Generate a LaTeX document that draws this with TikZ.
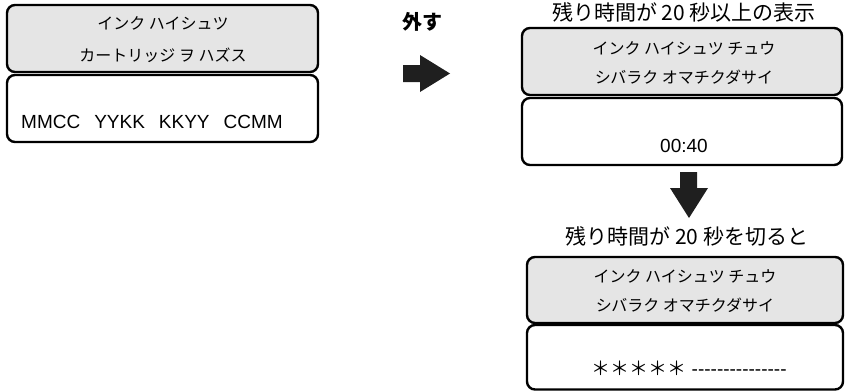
\documentclass[tikz,border=0pt]{standalone}
\usepackage{fontspec}
\setmainfont{Liberation Sans}
\newfontfamily\jp{Noto Sans CJK JP}

\begin{document}
\begin{tikzpicture}[x=1pt, y=-1pt,
  every node/.style={inner sep=0pt},
  uppanel/.style={draw, line width=2.4pt, rounded corners=8pt, fill=black!10, minimum height=67pt},
  lowpanel/.style={draw, line width=2.4pt, rounded corners=8pt, fill=white, minimum height=67pt},
  kana/.style={font=\jp\fontsize{16}{16}\selectfont},
  latin/.style={font=\fontsize{19}{19}\selectfont},
  heading/.style={font=\jp\fontsize{21}{21}\selectfont},
  blockarrow/.style={fill=black!88}
]
\useasboundingbox (0,0) rectangle (845,391);

%========== LEFT: cartridge out ==========
\node[uppanel, minimum width=311pt]  (lefttop) at (162.5, 38.5) {};
\node[lowpanel, minimum width=311pt] (leftlow) at (162.5, 108.5) {};

\node[kana] (leftline1) at (163, 23) {インク ハイシュツ};
\node[kana] (leftline2) at (163, 55) {カートリッジ ヲ ハズス};
\node[latin, anchor=west] (leftcodes) at (21, 122)
  {MMCC\hspace{14pt}YYKK\hspace{14pt}KKYY\hspace{14pt}CCMM};

%========== MIDDLE: remove ==========
\node[font=\jp\bfseries\fontsize{20}{20}\selectfont] (remove) at (422, 22) {外す};
\fill[blockarrow] (403, 65) -- (420, 65) -- (420, 55) -- (450, 73.5)
  -- (420, 92) -- (420, 82) -- (403, 82) -- cycle;

%========== RIGHT TOP: 20 s or more ==========
\node[heading] (overtitle) at (684, 12) {残り時間が 20 秒以上の表示};
\node[uppanel, minimum width=320pt]  (overtop) at (682, 61.5) {};
\node[lowpanel, minimum width=320pt] (overlow) at (682, 131.5) {};

\node[kana] (overline1) at (684, 48) {インク ハイシュツ チュウ};
\node[kana] (overline2) at (684, 77) {シバラク オマチクダサイ};
\node[latin] (overtime) at (684, 146) {00:40};

\fill[blockarrow] (680, 172) -- (697, 172) -- (697, 188) -- (708, 188)
  -- (689, 218) -- (670, 188) -- (680, 188) -- cycle;

%========== RIGHT BOTTOM: under 20 s ==========
\node[heading] (undertitle) at (687, 236) {残り時間が 20 秒を切ると};
\node[uppanel, minimum width=316pt, minimum height=66pt]  (undertop) at (685, 290) {};
\node[lowpanel, minimum width=316pt, minimum height=64.5pt] (underlow) at (685, 357.25) {};

\node[kana] (underline1) at (685, 276) {インク ハイシュツ チュウ};
\node[kana] (underline2) at (685, 305) {シバラク オマチクダサイ};
\node[latin] (underbar) at (689, 368)
  {{\jp ＊＊＊＊＊} \foreach \k in {1,...,15}{-}};

\end{tikzpicture}
\end{document}
